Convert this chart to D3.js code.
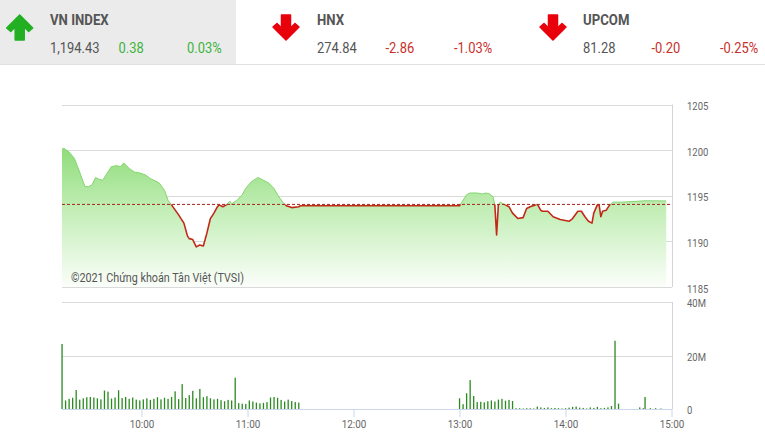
<!DOCTYPE html>
<html>
<head>
<meta charset="utf-8">
<style>
body{margin:0;background:#fff;}
svg{display:block;font-family:Roboto,"Noto Sans",sans-serif;}
</style>
</head>
<body>
<script src="https://d3js.org/d3.v7.min.js"></script>
<script>
// header
var indexNames=["VN INDEX","HNX","UPCOM"];
var indexValues=["1,194.43","274.84","81.28"];
var indexChanges=["0.38","-2.86","-0.20"];
var indexPercents=["0.03%","-1.03%","-0.25%"];

// index line
var refValue=1194.05;
var priceTimes=["9:15","9:16","9:19","9:22","9:25","9:28","9:30","9:32","9:34","9:36","9:38","9:41","9:43","9:46","9:48","9:50","9:51","9:53","9:56","9:59",
	"10:02","10:05","10:07","10:10","10:13","10:15","10:17","10:21","10:24","10:26","10:27","10:29","10:31","10:33","10:35","10:37","10:39","10:41","10:43","10:44","10:46","10:48","10:50","10:51","10:54","10:57","10:59",
	"11:02","11:05","11:06","11:09","11:12","11:15","11:17","11:20","11:22","11:25","11:29","11:30",
	"13:00","13:01","13:04","13:06","13:10","13:13","13:15","13:17","13:19","13:20","13:21","13:22","13:23","13:26","13:28","13:30","13:31","13:33","13:36","13:38","13:40","13:43","13:44","13:46","13:47","13:50","13:53","13:57",
	"14:02","14:04","14:07","14:09","14:11","14:13","14:15","14:16","14:18","14:19","14:20","14:21","14:23","14:25","14:27","14:32","14:41","14:45","14:57"];
var priceValues=[1200.1,1200.2,1199.8,1199.1,1197.6,1196.0,1196.0,1196.2,1197.0,1196.8,1196.7,1197.6,1198.2,1198.3,1198.2,1198.6,1198.4,1198.0,1197.6,1197.5,
	1197.3,1196.9,1196.7,1196.4,1195.6,1194.5,1194.0,1192.9,1192.0,1190.6,1190.3,1190.2,1189.4,1189.6,1189.5,1190.9,1192.5,1193.1,1193.8,1194.0,1193.8,1194.0,1194.4,1194.1,1194.5,1195.1,1195.8,
	1196.5,1196.9,1197.0,1196.7,1196.4,1195.8,1195.1,1194.3,1193.9,1193.7,1193.8,1193.9,
	1193.9,1194.2,1195.1,1195.3,1195.3,1195.2,1195.3,1195.2,1194.9,1194.0,1190.7,1194.0,1194.3,1194.0,1193.8,1193.1,1192.9,1192.5,1192.6,1193.6,1193.8,1194.0,1194.1,1193.4,1193.3,1193.3,1192.7,1192.4,
	1192.2,1192.5,1193.3,1193.3,1192.7,1192.2,1192.0,1193.1,1194.0,1194.0,1192.7,1193.3,1193.4,1194.0,1194.3,1194.3,1194.4,1194.45,1194.43];

// volume (million shares)
var volTimes=["9:15","9:17","9:19","9:21","9:23","9:25","9:27","9:29","9:31","9:33","9:35","9:37","9:39","9:41","9:43","9:45","9:47","9:49","9:51","9:53","9:55","9:57","9:59",
	"10:01","10:03","10:05","10:07","10:09","10:11","10:13","10:15","10:17","10:19","10:21","10:23","10:25","10:27","10:29","10:31","10:33","10:35","10:37","10:39","10:41","10:43","10:45","10:47","10:49","10:51","10:53","10:55","10:57","10:59",
	"11:01","11:03","11:05","11:07","11:09","11:11","11:13","11:15","11:17","11:19","11:21","11:23","11:25","11:27","11:29",
	"13:00","13:02","13:04","13:06","13:08","13:10","13:12","13:14","13:16","13:18","13:20","13:22","13:24","13:26","13:28","13:30",
	"13:32","13:34","13:36","13:38","13:40","13:42","13:44","13:46","13:48","13:50","13:52","13:54","13:56","13:58","14:00","14:02","14:04","14:06","14:08","14:10","14:12","14:14","14:16","14:18","14:20","14:22","14:24","14:26","14:28","14:30",
	"14:42","14:44","14:45","14:48","14:51","14:54"];
var volValues=[24.3,3.2,3.8,4.2,7.1,3.5,4.0,4.4,4.5,4.3,4.0,3.6,6.9,6.5,3.9,4.3,7.0,4.1,4.5,3.8,4.3,3.5,3.2,
	3.6,4.0,3.4,3.8,4.4,3.6,4.2,3.8,4.5,6.6,3.7,9.3,4.1,5.2,6.8,4.0,7.5,4.4,4.8,4.0,3.6,3.8,3.3,2.9,3.4,3.2,11.7,2.2,2.0,1.9,
	3.2,2.8,2.4,2.1,2.3,2.6,4.3,4.5,4.2,3.4,2.8,3.5,3.0,2.6,2.4,
	4.0,1.8,5.9,10.8,4.9,2.6,2.7,2.5,2.9,3.2,2.8,3.5,3.8,3.1,3.4,3.0,
	0.3,0.3,0.2,0.3,0.3,0.2,0.9,0.6,0.4,0.6,0.3,0.4,0.3,0.2,0.3,0.5,0.8,0.9,0.5,0.4,0.2,0.6,0.4,0.8,0.3,0.4,0.6,1.1,25.5,2.0,
	0.6,0.3,4.5,0.3,0.3,0.2];

var priceTicks=[1185,1190,1195,1200,1205];
var volTicks=[0,20,40];
var timeTicks=["10:00","11:00","12:00","13:00","14:00","15:00"];

var width=765;
var height=445;
var parse=d3.timeParse("%H:%M");

var svg=d3.select("body").append("svg")
		.attr("width",width)
		.attr("height",height);

// shrink text a little, the original font is a condensed one
function condense(sel,k){
	sel.each(function(){
		var w=this.getComputedTextLength();
		d3.select(this).attr("textLength",w*k).attr("lengthAdjust","spacingAndGlyphs");
	});
}

//---- header
svg.append("rect").attr("x",0).attr("y",0).attr("width",236).attr("height",64).attr("fill","#ebebeb");
svg.append("line").attr("x1",0).attr("x2",width).attr("y1",64.5).attr("y2",64.5).attr("stroke","#e2e2e2");

var textX=[50,317,583];
var arrowX=[19.7,286,553];
indexNames.forEach(function(name,i){
	var up=indexChanges[i].charAt(0)!="-";
	var cx=arrowX[i];
	var p=up
		? "M"+cx+",15L"+(cx+13)+",28L"+(cx+9)+",31.5L"+(cx+4.5)+",27L"+(cx+4.5)+",40L"+(cx-4.5)+",40L"+(cx-4.5)+",27L"+(cx-9)+",31.5L"+(cx-13)+",28Z"
		: "M"+cx+",40L"+(cx+13)+",27L"+(cx+9)+",23.5L"+(cx+4.5)+",28L"+(cx+4.5)+",15L"+(cx-4.5)+",15L"+(cx-4.5)+",28L"+(cx-9)+",23.5L"+(cx-13)+",27Z";
	svg.append("path").attr("d",p)
		.attr("fill",up?"#22b022":"#e8000b")
		.attr("stroke",up?"#22b022":"#e8000b")
		.attr("stroke-width",1.5)
		.attr("stroke-linejoin","round");
	var col=up?"#3cb43c":"#c9302c";
	svg.append("text").attr("x",textX[i]).attr("y",25)
		.attr("font-size","15.5px").attr("font-weight","bold").attr("fill","#555")
		.text(name).call(condense,0.85);
	svg.append("text").attr("x",textX[i]).attr("y",53)
		.attr("font-size","15px").attr("fill","#555")
		.text(indexValues[i]).call(condense,0.86);
	svg.append("text").attr("x",textX[i]+68.5).attr("y",53)
		.attr("font-size","15px").attr("fill",col)
		.text(indexChanges[i]).call(condense,0.86);
	svg.append("text").attr("x",textX[i]+137).attr("y",53)
		.attr("font-size","15px").attr("fill",col)
		.text(indexPercents[i]).call(condense,0.86);
});

//---- scales
var x=d3.scaleTime()
		.domain([parse("9:15"),parse("15:00")])
		.range([62,671.5]);
var y=d3.scaleLinear()
		.domain([1185,1205])
		.range([287,104.5]);
var yv=d3.scaleLinear()
		.domain([0,40])
		.range([409,302]);

var price=priceTimes.map(function(t,i){ return {t:parse(t),v:priceValues[i]}; });
var vol=volTimes.map(function(t,i){ return {t:parse(t),v:volValues[i]}; });

//---- price panel
svg.selectAll(".pgrid").data(priceTicks).enter().append("line")
		.attr("class","pgrid")
		.attr("x1",62).attr("x2",672)
		.attr("y1",function(d){ return Math.round(y(d))+0.5; })
		.attr("y2",function(d){ return Math.round(y(d))+0.5; })
		.attr("stroke","#dadada");
svg.append("line").attr("x1",672.5).attr("x2",672.5).attr("y1",y(1205)).attr("y2",y(1185)).attr("stroke","#d4d4d4");

var defs=svg.append("defs");
var grad=defs.append("linearGradient").attr("id","g1")
		.attr("gradientUnits","userSpaceOnUse")
		.attr("x1",0).attr("x2",0).attr("y1",y(1200.5)).attr("y2",y(1185));
grad.append("stop").attr("offset","0%").attr("stop-color","#8ddb77");
grad.append("stop").attr("offset","45%").attr("stop-color","#c2eeb6");
grad.append("stop").attr("offset","100%").attr("stop-color","#fbfefa");

defs.append("clipPath").attr("id","below").append("rect")
		.attr("x",0).attr("width",width).attr("y",y(refValue)).attr("height",y(1185)-y(refValue)+2);
defs.append("clipPath").attr("id","above").append("rect")
		.attr("x",0).attr("width",width).attr("y",0).attr("height",y(refValue));

var area=d3.area()
		.x(function(d){ return x(d.t); })
		.y0(y(1185))
		.y1(function(d){ return y(d.v); });
var line=d3.line()
		.x(function(d){ return x(d.t); })
		.y(function(d){ return y(d.v); });

svg.append("path").datum(price).attr("d",area).attr("fill","url(#g1)");
svg.append("path").datum(price).attr("d",line)
		.attr("fill","none").attr("stroke","#83d56f").attr("stroke-width",1)
		.attr("clip-path","url(#above)");
svg.append("path").datum(price).attr("d",line)
		.attr("fill","none").attr("stroke","#c22a18").attr("stroke-width",1.6)
		.attr("stroke-linejoin","round")
		.attr("clip-path","url(#below)");
svg.append("line")
		.attr("x1",62).attr("x2",672)
		.attr("y1",y(refValue)).attr("y2",y(refValue))
		.attr("stroke","#a8231c").attr("stroke-dasharray","3,2").attr("stroke-width",1);

svg.append("text").attr("x",71).attr("y",282)
		.attr("font-size","12.5px").attr("fill","#555")
		.text("©2021 Chứng khoán Tân Việt (TVSI)").call(condense,0.86);

var pAxis=svg.append("g").attr("transform","translate(672,0)")
		.call(d3.axisRight(y).tickValues(priceTicks).tickSize(0).tickPadding(15).tickFormat(d3.format("d")));
pAxis.select(".domain").remove();
pAxis.selectAll("text").attr("fill","#666").attr("font-size","11px").attr("dy","0.47em")
		.attr("font-family","Roboto").call(condense,0.86);

//---- volume panel
svg.selectAll(".vgrid").data([20,40]).enter().append("line")
		.attr("class","vgrid")
		.attr("x1",62).attr("x2",672)
		.attr("y1",function(d){ return Math.round(yv(d))+0.5; })
		.attr("y2",function(d){ return Math.round(yv(d))+0.5; })
		.attr("stroke","#dadada");
svg.append("line").attr("x1",672.5).attr("x2",672.5).attr("y1",yv(40)).attr("y2",yv(0)).attr("stroke","#d4d4d4");

svg.selectAll(".vbar").data(vol).enter().append("rect")
		.attr("class","vbar")
		.attr("x",function(d){ return x(d.t)-0.6; })
		.attr("width",1.3)
		.attr("y",function(d){ return yv(d.v); })
		.attr("height",function(d){ return yv(0)-yv(d.v); })
		.attr("fill","#2a8a1f");

var vAxis=svg.append("g").attr("transform","translate(672,0)")
		.call(d3.axisRight(yv).tickValues(volTicks).tickSize(0).tickPadding(15).tickFormat(function(d){ return d?d+"M":"0"; }));
vAxis.select(".domain").remove();
vAxis.selectAll("text").attr("fill","#666").attr("font-size","11px").attr("dy","0.42em")
		.attr("font-family","Roboto").call(condense,0.86);

var xAxis=svg.append("g").attr("transform","translate(0,409)")
		.call(d3.axisBottom(x).tickValues(timeTicks.map(parse)).tickFormat(d3.timeFormat("%H:%M")).tickSize(8).tickPadding(3));
xAxis.select(".domain").remove();
xAxis.selectAll("line").attr("stroke","#ccd6eb");
xAxis.selectAll("text").attr("fill","#666").attr("font-size","11.5px")
		.attr("font-family","Roboto").call(condense,0.86);
svg.append("line").attr("x1",62).attr("x2",672).attr("y1",409.5).attr("y2",409.5).attr("stroke","#ccd6eb");
</script>
</body>
</html>
